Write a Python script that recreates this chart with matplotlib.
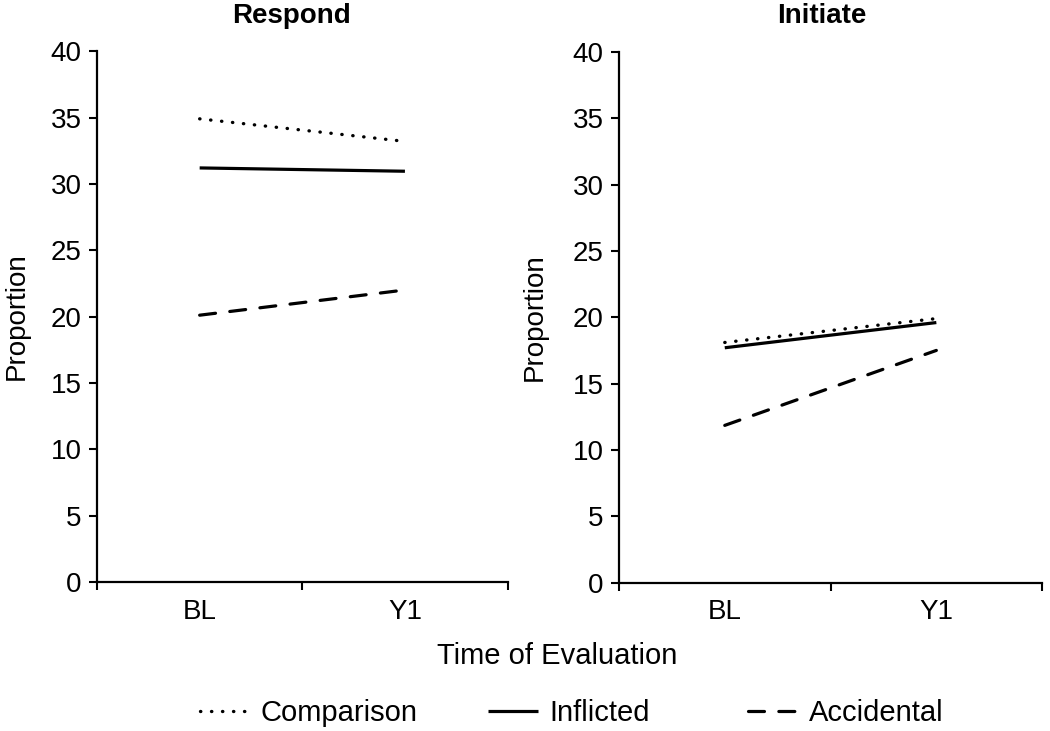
import numpy as np
import matplotlib
matplotlib.use('Agg')
import matplotlib.pyplot as plt

plt.rcParams['font.family'] = ['Liberation Sans', 'DejaVu Sans']

# dati
tempi = ['BL', 'Y1']
pannelli = ['Respond', 'Initiate']
gruppi = ['Comparison', 'Inflicted', 'Accidental']
respond = {'Comparison': [34.9, 33.2], 'Inflicted': [31.2, 30.95], 'Accidental': [20.1, 22.0]}
initiate = {'Comparison': [18.1, 19.9], 'Inflicted': [17.7, 19.6], 'Accidental': [11.85, 17.5]}
valori = [respond, initiate]

stili = {'Comparison': (0, (0.1, 3.2)), 'Inflicted': '-', 'Accidental': (0, (5, 4.5))}
spessori = {'Comparison': 2.4, 'Inflicted': 2.3, 'Accidental': 2.3}

fig = plt.figure(figsize=(10.5, 7.31), dpi=100)
ax1 = fig.add_axes([0.0924, 0.204, 0.391, 0.726])
ax2 = fig.add_axes([0.5895, 0.203, 0.403, 0.726])
assi = [ax1, ax2]

x = np.arange(len(tempi)) + 0.5
linee = []
for ax, dati in zip(assi, valori):
    for g in gruppi:
        l, = ax.plot(x, dati[g], color='black', lw=spessori[g], ls=stili[g],
                     dash_capstyle='round', solid_capstyle='butt', label=g)
        if ax is ax1:
            linee.append(l)
    ax.set_xlim(0, 2)
    ax.set_ylim(0, 40)
    ax.set_yticks(np.arange(0, 41, 5))
    ax.set_xticks([0, 1, 2])
    ax.set_xticklabels([])
    ax.set_xticks(x, minor=True)
    ax.set_xticklabels(tempi, minor=True)
    ax.tick_params(axis='x', which='minor', length=0, pad=12, labelsize=20)
    ax.tick_params(axis='x', which='major', length=6, width=1.5, direction='out')
    ax.tick_params(axis='y', length=6, width=1.5, direction='out', labelsize=20, pad=5)
    for s in ['top', 'right']:
        ax.spines[s].set_visible(False)
    for s in ['left', 'bottom']:
        ax.spines[s].set_linewidth(1.6)

ax1.set_ylabel('Proportion', fontsize=20, labelpad=15)
ax2.set_ylabel('Proportion', fontsize=20, labelpad=18)

# titoli dei pannelli
fig.text(0.278, 0.978, pannelli[0], ha='center', va='center', fontsize=20, fontweight='bold')
fig.text(0.783, 0.978, pannelli[1], ha='center', va='center', fontsize=20, fontweight='bold')

fig.text(0.531, 0.103, 'Time of Evaluation', ha='center', va='center', fontsize=21)

# legenda: una voce per volta per avere le stesse distanze
pos_x = [0.190, 0.465, 0.712]
for l, g, px in zip(linee, gruppi, pos_x):
    fig.legend(handles=[l], labels=[g], loc='center left', bbox_to_anchor=(px, 0.024),
               frameon=False, handlelength=1.7, handletextpad=0.4, borderpad=0,
               borderaxespad=0, fontsize=21)

fig.savefig('out.png', dpi=100)
